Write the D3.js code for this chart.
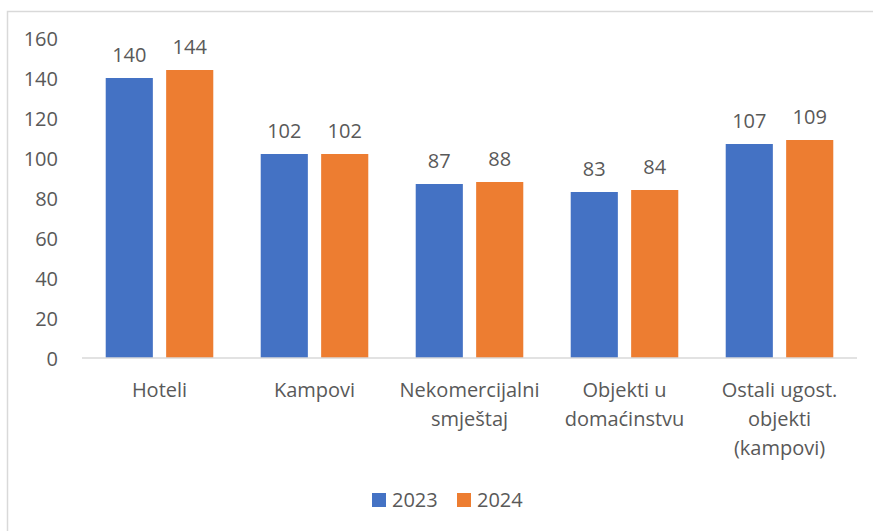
<!DOCTYPE html>
<html><head><meta charset="utf-8">
<script src="https://cdn.jsdelivr.net/npm/d3@7"></script>
<style>body{margin:0;background:#fff}svg{display:block}text{font-family:"Open Sans",sans-serif;fill:#595959}</style>
</head><body><svg id="c" width="873" height="531"></svg>
<script>
const categories = [["Hoteli"],["Kampovi"],["Nekomercijalni","smještaj"],["Objekti u","domaćinstvu"],["Ostali ugost.","objekti","(kampovi)"]];
const series = ["2023","2024"];
const values2023 = [140,102,87,83,107];
const values2024 = [144,102,88,84,109];
const yTicks = [0,20,40,60,80,100,120,140,160];
const colors = ["#4472C4","#ED7D31"];

(function(){
const svg = d3.select("#c");
svg.append("rect").attr("x",7.5).attr("y",11.5).attr("width",1000).attr("height",1000)
  .attr("fill","none").attr("stroke","#d9d9d9").attr("stroke-width",1.5);

const pL=82, pR=857, pT=38, pB=358;
const x0 = d3.scaleBand().domain(d3.range(categories.length)).range([pL,pR]).paddingInner(0.306).paddingOuter(0.153);
const x1 = d3.scaleBand().domain(series).range([0,x0.bandwidth()]).paddingInner(0.22);
const y = d3.scaleLinear().domain([0,160]).range([pB,pT]);
const data = [values2023, values2024];

const yAxis = d3.axisLeft(y).tickValues(yTicks).tickSize(0).tickPadding(0);
const ya = svg.append("g").attr("transform",`translate(58,0)`).call(yAxis);
ya.select(".domain").remove();
ya.selectAll("text").style("font-size","20px").style("font-family","Open Sans").attr("fill","#595959").attr("dy","0.35em");

categories.forEach((c,i)=>{
  series.forEach((s,j)=>{
    const v = data[j][i];
    svg.append("rect").attr("x",x0(i)+x1(s)).attr("y",y(v)).attr("width",x1.bandwidth()).attr("height",y(0)-y(v)).attr("fill",colors[j]);
    svg.append("text").attr("x",x0(i)+x1(s)+x1.bandwidth()/2).attr("y",y(v)-16).attr("text-anchor","middle").style("font-size","20px").text(v);
  });
});

const xAxis = d3.axisBottom(x0).tickSize(0).tickFormat("");
const xa = svg.append("g").attr("transform",`translate(0,${pB})`).call(xAxis);
xa.select(".domain").attr("stroke","#d9d9d9").attr("stroke-width",1.5).attr("d",`M${pL},0H${pR}`);

categories.forEach((lines,i)=>{
  const t = svg.append("text").attr("text-anchor","middle").style("font-size","20px");
  lines.forEach((l,k)=>{
    t.append("tspan").attr("x",x0(i)+x0.bandwidth()/2).attr("y",397+k*29).text(l);
  });
});

const lg = [{x:372},{x:457}];
lg.forEach((d,j)=>{
  svg.append("rect").attr("x",d.x).attr("y",493).attr("width",14).attr("height",14).attr("fill",colors[j]);
  svg.append("text").attr("x",d.x+20).attr("y",507).style("font-size","20px").text(series[j]);
});
})();
</script></body></html>
